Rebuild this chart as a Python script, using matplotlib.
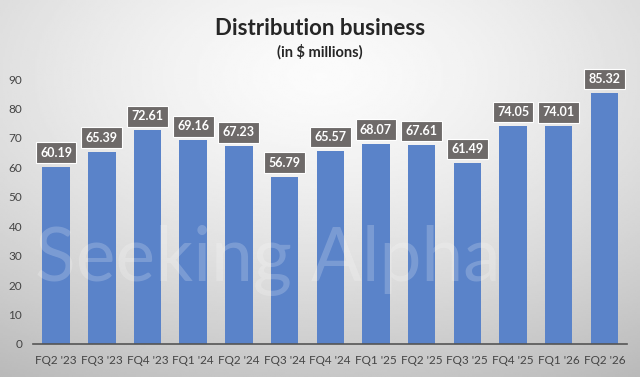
import numpy as np
import matplotlib.pyplot as plt

# data
quarters = ["FQ2 '23", "FQ3 '23", "FQ4 '23", "FQ1 '24", "FQ2 '24", "FQ3 '24", "FQ4 '24",
            "FQ1 '25", "FQ2 '25", "FQ3 '25", "FQ4 '25", "FQ1 '26", "FQ2 '26"]
revenue = [60.19, 65.39, 72.61, 69.16, 67.23, 56.79, 65.57,
           68.07, 67.61, 61.49, 74.05, 74.01, 85.32]
yticks = [0, 10, 20, 30, 40, 50, 60, 70, 80, 90]

plt.rcParams['font.family'] = ['Lato', 'DejaVu Sans']

fig = plt.figure(figsize=(6.4, 3.77), dpi=100)

# radial gray background
bg = fig.add_axes([0, 0, 1, 1], zorder=-10)
yy, xx = np.mgrid[0:1:200j, 0:1:340j]
r = np.sqrt(((xx - 0.5) / 1.0) ** 2 + ((yy - 0.2) / 1.0) ** 2)
shade = 0.985 - 0.28 * np.clip(r, 0, 1) ** 1.4
bg.imshow(shade, cmap='gray', vmin=0, vmax=1, extent=[0, 1, 1, 0], aspect='auto')
bg.set_xlim(0, 1)
bg.set_ylim(1, 0)
bg.axis('off')

ax = fig.add_axes([0.052, 0.088, 0.928, 0.702])
ax.patch.set_alpha(0)
x = np.arange(len(quarters))
ax.bar(x, revenue, width=0.6, color='#5a83c9', zorder=2)

for xi, v in zip(x, revenue):
    ax.annotate(f"{v:.2f}", (xi, v), xytext=(0, 14), textcoords='offset pixels',
                ha='center', va='center', color='white', fontsize=9, fontweight='bold',
                bbox=dict(boxstyle='square,pad=0.35', fc='#6e6a69', ec='white', lw=0.8),
                annotation_clip=False, zorder=4)

ax.set_xlim(-0.5, len(quarters) - 0.5)
ax.set_ylim(0, 90)
ax.set_yticks(yticks)
ax.set_xticks(x)
ax.set_xticklabels(quarters)
ax.tick_params(axis='both', length=0, colors='#444444', labelsize=8.5)
ax.tick_params(axis='x', pad=8)
ax.tick_params(axis='y', pad=8)
for side in ['top', 'right', 'left']:
    ax.spines[side].set_visible(False)
ax.spines['bottom'].set_color('#555555')
ax.spines['bottom'].set_linewidth(1.2)

# faint watermark
fig.text(0.055, 0.31, "Seeking Alpha", fontsize=54, color='white', alpha=0.2,
         ha='left', va='center', zorder=3)

fig.text(0.5, 0.925, "Distribution business", ha='center', va='center',
         fontsize=16, fontweight='bold', color='#262626')
fig.text(0.5, 0.862, "(in $ millions)", ha='center', va='center',
         fontsize=10.5, fontweight='bold', color='#262626')

fig.savefig("out.png", dpi=100)
